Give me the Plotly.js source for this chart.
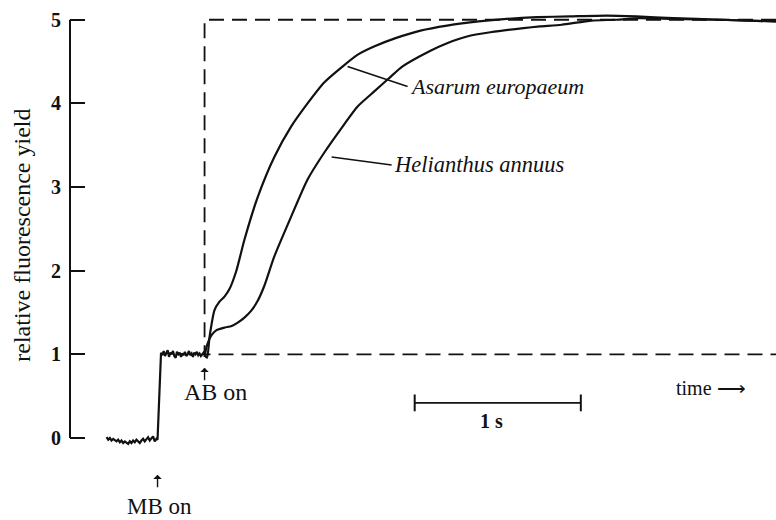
<!DOCTYPE html>
<html>
<head>
<meta charset="utf-8">
<script src="https://cdn.plot.ly/plotly-3.0.1.min.js"></script>
<style>html,body{margin:0;padding:0;background:#fff;}#chart{width:776px;height:520px;}</style>
</head>
<body>
<div id="chart"></div>
<script>
// time in seconds, 0 = actinic beam (AB) on
var preTime = [-0.59,-0.58,-0.57,-0.56,-0.55,-0.54,-0.53,-0.52,-0.51,-0.50,-0.49,-0.48,-0.47,-0.46,-0.45,-0.44,-0.43,-0.42,-0.41,-0.40,-0.39,-0.38,-0.37,-0.36,-0.35,-0.34,-0.33,-0.32,-0.31,-0.30,-0.29,
  -0.283,
  -0.262,-0.254,-0.246,-0.238,-0.230,-0.222,-0.214,-0.206,-0.198,-0.190,-0.182,-0.174,-0.166,-0.158,-0.150,-0.142,-0.134,-0.126,-0.118,-0.110,-0.102,-0.094,-0.086,-0.078,-0.070,-0.062,-0.054,-0.046,-0.038,-0.030,-0.022,-0.014,-0.006,0.0];
var preYield = [0.01,-0.02,0.0,-0.03,-0.01,-0.02,-0.04,-0.02,-0.05,-0.03,-0.06,-0.04,-0.05,-0.07,-0.04,-0.06,-0.03,-0.05,-0.02,-0.04,-0.06,-0.03,-0.01,-0.04,-0.02,0.01,-0.03,0.0,0.02,-0.04,-0.01,
  -0.02,
  1.02,0.99,1.04,0.98,1.01,1.05,0.97,1.02,1.0,1.04,0.98,0.96,1.03,1.0,1.02,0.97,1.01,0.99,1.03,0.98,1.0,1.04,0.99,1.01,0.97,1.02,1.0,1.03,0.99,1.01,0.98,1.0,1.02,0.99];

var asarumTime = [0,0.015,0.03,0.06,0.09,0.12,0.15,0.19,0.24,0.32,0.42,0.52,0.62,0.72,0.83,0.92,1.02,1.15,1.3,1.46,1.65,1.82,2.0,2.2,2.42,2.6,2.82,3.1,3.44];
var asarumYield = [0.99,0.96,1.21,1.53,1.63,1.69,1.78,1.99,2.37,2.88,3.36,3.72,4.0,4.25,4.44,4.58,4.68,4.78,4.87,4.93,4.98,5.01,5.03,5.04,5.05,5.04,5.02,5.0,4.98];

var helianthusTime = [0,0.012,0.042,0.072,0.12,0.163,0.2,0.24,0.28,0.32,0.36,0.42,0.52,0.62,0.72,0.83,0.92,1.02,1.11,1.19,1.36,1.46,1.58,1.72,1.92,2.02,2.15,2.33,2.48,2.62,2.82,3.1,3.44];
var helianthusYield = [0.97,1.09,1.23,1.29,1.32,1.34,1.38,1.44,1.52,1.64,1.82,2.17,2.64,3.09,3.41,3.72,3.96,4.14,4.3,4.44,4.63,4.72,4.8,4.85,4.9,4.92,4.94,4.99,5.0,5.02,5.01,5.0,4.98];

// idealised actinic-light response (dashed)
var idealTime = [3.44,0,0,3.44];
var idealYield = [5,5,1,1];

// 1 s scale bar
var barTime = [1.265,2.265];
var barYield = [0.42,0.42];

var yTicks = [0,1,2,3,4,5];
var yTickText = ['0','1','2','3','4','5'];

var serif = 'Liberation Serif, Times New Roman, serif';

var traces = [
  {x: idealTime, y: idealYield, mode:'lines', line:{color:'#111', width:1.8, dash:'15px,8px'}, hoverinfo:'skip'},
  {x: preTime, y: preYield, mode:'lines', line:{color:'#111', width:2.2}},
  {x: asarumTime, y: asarumYield, mode:'lines', line:{color:'#111', width:2.2, shape:'spline', smoothing:0.6}, name:'Asarum europaeum'},
  {x: helianthusTime, y: helianthusYield, mode:'lines', line:{color:'#111', width:2.2, shape:'spline', smoothing:0.6}, name:'Helianthus annuus'},
  {x: barTime, y: barYield, mode:'lines+markers', line:{color:'#111', width:1.8}, marker:{symbol:'line-ns-open', size:12, line:{color:'#111', width:2}}}
];

var layout = {
  width: 776, height: 520,
  margin: {l:70, r:0, t:3, b:0},
  paper_bgcolor:'#fff', plot_bgcolor:'#fff',
  showlegend:false,
  font:{family: serif, color:'#111'},
  xaxis:{range:[-0.81,3.44], visible:false, showgrid:false, zeroline:false},
  yaxis:{range:[-0.98,5.2], tickvals:yTicks, ticktext:yTickText, ticks:'inside', ticklen:15, tickwidth:2, tickcolor:'#111',
         showline:false, showgrid:false, zeroline:false, ticklabelstandoff:8,
         tickfont:{family:serif, size:20, color:'#111', weight:'bold'}},
  shapes:[
    {type:'line', xref:'paper', x0:0, x1:0, yref:'y', y0:0, y1:5, line:{color:'#111', width:2}}
  ],
  annotations:[
    {xref:'paper', x:-0.0680, yref:'y', y:2.43, text:'relative fluorescence yield', textangle:-90, showarrow:false,
     font:{family:serif, size:24, color:'#111'}, xanchor:'center', yanchor:'middle'},
    {x:0.861, y:4.44, text:'<i>Asarum europaeum</i>', showarrow:true, arrowhead:0, arrowwidth:1.6, arrowcolor:'#111',
     ax:60, ay:20, xanchor:'left', yanchor:'middle', font:{family:serif, size:22, color:'#111'}},
    {x:0.765, y:3.36, text:'<i>Helianthus annuus</i>', showarrow:true, arrowhead:0, arrowwidth:1.6, arrowcolor:'#111',
     ax:60, ay:8, xanchor:'left', yanchor:'middle', font:{family:serif, size:22.5, color:'#111'}},
    {x:0, y:0.84, text:'', showarrow:true, arrowhead:1, arrowsize:1, arrowwidth:1.4, arrowcolor:'#111', ax:0, ay:14},
    {x:0.066, y:0.55, text:'AB on', showarrow:false, font:{family:serif, size:24, color:'#111'}},
    {x:-0.283, y:-0.44, text:'', showarrow:true, arrowhead:1, arrowsize:1, arrowwidth:1.4, arrowcolor:'#111', ax:0, ay:14},
    {x:-0.271, yref:'paper', y:0, yanchor:'bottom', borderpad:0, text:'MB on', showarrow:false, font:{family:serif, size:23, color:'#111'}},
    {x:1.73, y:0.2, text:'<b>1 s</b>', showarrow:false, font:{family:serif, size:20, color:'#111'}},
    {x:3.05, y:0.6, text:'time ⟶', showarrow:false, font:{family:serif, size:20, color:'#111'}}
  ]
};

Plotly.newPlot('chart', traces, layout, {staticPlot:true, displayModeBar:false});
</script>
</body>
</html>
